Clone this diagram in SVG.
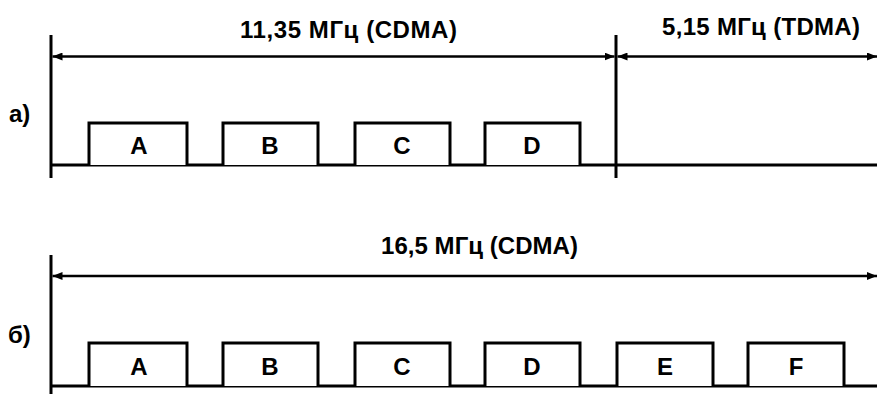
<svg xmlns="http://www.w3.org/2000/svg" width="877" height="394" viewBox="0 0 877 394">
  <style>
    .axis { stroke: #000; stroke-width: 3; fill: none; }
    .dim { stroke: #000; stroke-width: 2.5; fill: none; }
    .box { stroke: #000; stroke-width: 3; fill: #fff; stroke-linejoin: miter; }
    .lbl { font-family: "Liberation Sans", Arial, sans-serif; font-weight: bold; font-size: 24px; fill: #000; }
    .ch { font-family: "Liberation Sans", Arial, sans-serif; font-weight: bold; font-size: 24px; fill: #000; text-anchor: middle; }
    .part { font-family: "Liberation Sans", Arial, sans-serif; font-weight: bold; font-size: 24px; fill: #000; }
  </style>
  <defs>
    <marker id="arr" viewBox="0 0 10 8" refX="10" refY="4" markerWidth="10" markerHeight="8" markerUnits="userSpaceOnUse" orient="auto-start-reverse">
      <path d="M0,0 L10,4 L0,8 Z" fill="#000"/>
    </marker>
  </defs>
  <rect width="877" height="394" fill="#fff"/>

  <!-- panel a: axes -->
  <g id="axes-a">
    <line class="axis" x1="51" y1="35" x2="51" y2="178"/>
    <line class="axis" x1="616" y1="35" x2="616" y2="178"/>
    <line class="axis" x1="51" y1="165" x2="877" y2="165"/>
    <text class="part" x="9" y="122">а)</text>
  </g>

  <!-- panel a: channels -->
  <g id="a-A"><path class="box" d="M89,165 V123 H187 V165"/><text class="ch" x="139" y="154">A</text></g>
  <g id="a-B"><path class="box" d="M223,165 V123 H318 V165"/><text class="ch" x="270" y="154">B</text></g>
  <g id="a-C"><path class="box" d="M355,165 V123 H450 V165"/><text class="ch" x="402" y="154">C</text></g>
  <g id="a-D"><path class="box" d="M485,165 V123 H580 V165"/><text class="ch" x="532" y="154">D</text></g>

  <g id="label-cdma-a"><text class="lbl" x="240" y="38" textLength="217" lengthAdjust="spacing">11,35 МГц (CDMA)</text></g>
  <g id="label-tdma-a"><text class="lbl" x="662" y="35" textLength="198" lengthAdjust="spacing">5,15 МГц (TDMA)</text></g>

  <!-- panel b: axes -->
  <g id="axes-b">
    <line class="axis" x1="51" y1="255" x2="51" y2="394"/>
    <line class="axis" x1="51" y1="386" x2="877" y2="386"/>
    <text class="part" x="8" y="343">б)</text>
  </g>

  <!-- panel b: channels -->
  <g id="b-A"><path class="box" d="M89,386 V343 H187 V386"/><text class="ch" x="139" y="375">A</text></g>
  <g id="b-B"><path class="box" d="M223,386 V343 H318 V386"/><text class="ch" x="270" y="375">B</text></g>
  <g id="b-C"><path class="box" d="M355,386 V343 H450 V386"/><text class="ch" x="402" y="375">C</text></g>
  <g id="b-D"><path class="box" d="M485,386 V343 H580 V386"/><text class="ch" x="532" y="375">D</text></g>
  <g id="b-E"><path class="box" d="M617,386 V343 H713 V386"/><text class="ch" x="665" y="375">E</text></g>
  <g id="b-F"><path class="box" d="M748,386 V343 H844 V386"/><text class="ch" x="796" y="375">F</text></g>

  <g id="label-cdma-b"><text class="lbl" x="381" y="254" textLength="197" lengthAdjust="spacing">16,5 МГц (CDMA)</text></g>

  <!-- bandwidth dimension arrows -->
  <g id="connectors">
    <line class="dim" x1="52.5" y1="56.5" x2="614.5" y2="56.5" marker-start="url(#arr)" marker-end="url(#arr)"/>
    <line class="dim" x1="617.5" y1="56.5" x2="877" y2="56.5" marker-start="url(#arr)" marker-end="url(#arr)"/>
    <line class="dim" x1="52.5" y1="276" x2="877" y2="276" marker-start="url(#arr)" marker-end="url(#arr)"/>
  </g>
</svg>
